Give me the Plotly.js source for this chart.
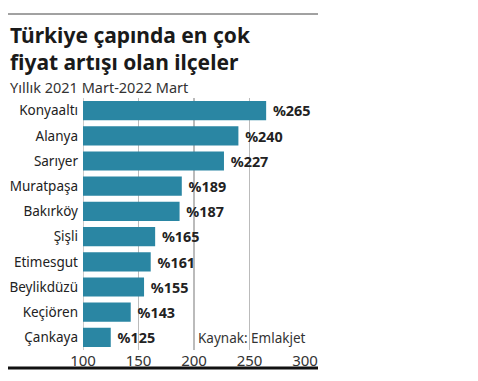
<!DOCTYPE html>
<html><head><meta charset="utf-8">
<script src="https://cdn.plot.ly/plotly-3.0.1.min.js"></script>
<style>body{margin:0;background:#fff}#c{width:478px;height:381px}</style>
</head><body><div id="c"></div>
<script>
const categories = ["Konyaaltı","Alanya","Sarıyer","Muratpaşa","Bakırköy","Şişli","Etimesgut","Beylikdüzü","Keçiören","Çankaya"];
const values = [265,240,227,189,187,165,161,155,143,125];
const tickVals = [100,150,200,250,300];

const L=83,R=305,T=98,B=350,W=478,H=381;
const px=x=>(x-L)/(R-L), py=y=>(B-y)/(B-T);
const font="Noto Sans";

const trace={type:'bar',orientation:'h',y:categories,x:values,base:0,
  marker:{color:'#2a86a3'},
  text:values.map(v=>'\u00a0%'+v),textposition:'outside',cliponaxis:false,
  textfont:{family:font,size:15,color:'#222',weight:700},
  width:0.76,hoverinfo:'none'};

const layout={width:W,height:H,margin:{l:L,r:W-R,t:T,b:H-B},
  paper_bgcolor:'#fff',plot_bgcolor:'#fff',showlegend:false,
  xaxis:{range:[100,300],tickvals:tickVals,showgrid:true,gridcolor:'#bbb',gridwidth:1.5,
    zeroline:false,showline:false,ticks:'',tickfont:{family:font,size:15,color:'#333'},ticklabelstandoff:0,fixedrange:true},
  yaxis:{autorange:'reversed',showgrid:false,zeroline:false,showline:false,ticks:'',
    tickfont:{family:font,size:13.5,color:'#222'},ticklabelstandoff:4,fixedrange:true},
  shapes:[
    {type:'line',xref:'paper',yref:'paper',x0:px(8),x1:px(318),y0:py(14),y1:py(14),line:{color:'#444',width:1}},
    {type:'line',xref:'paper',yref:'paper',x0:px(8),x1:px(318),y0:py(368),y1:py(368),line:{color:'#111',width:3}},
    {type:'line',xref:'x',yref:'paper',x0:100,x1:100,y0:0,y1:1,line:{color:'#bbb',width:1.5},layer:'below'}
  ],
  annotations:[
    {xref:'paper',yref:'paper',x:px(8),y:py(35),xanchor:'left',yanchor:'middle',showarrow:false,
      text:'<b>Türkiye çapında en çok</b>',font:{family:font,size:21,color:'#1a1a1a'}},
    {xref:'paper',yref:'paper',x:px(8),y:py(62),xanchor:'left',yanchor:'middle',showarrow:false,
      text:'<b>fiyat artışı olan ilçeler</b>',font:{family:font,size:21,color:'#1a1a1a'}},
    {xref:'paper',yref:'paper',x:px(8),y:py(87),xanchor:'left',yanchor:'middle',showarrow:false,
      text:'Yıllık 2021 Mart-2022 Mart',font:{family:font,size:14.5,color:'#333'}},
    {xref:'paper',yref:'paper',x:px(308),y:py(338),xanchor:'right',yanchor:'middle',showarrow:false,
      text:'Kaynak: Emlakjet',font:{family:font,size:13.5,color:'#333'}}
  ]};
Plotly.newPlot('c',[trace],layout,{displayModeBar:false,staticPlot:true});
</script></body></html>
